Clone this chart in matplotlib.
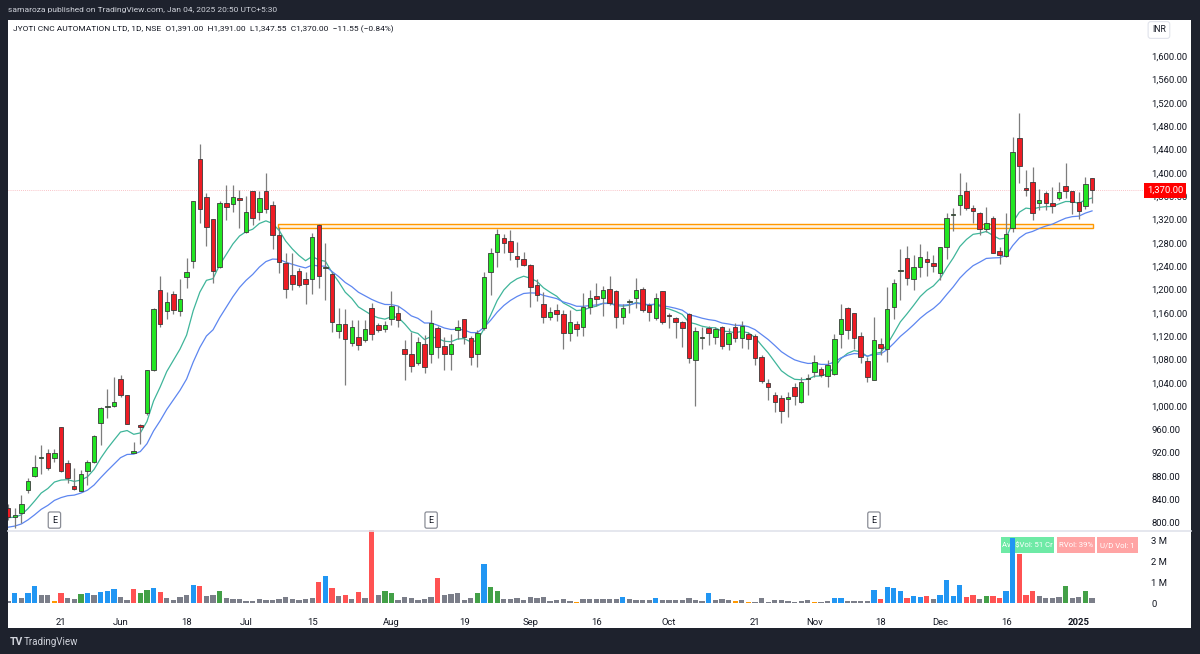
import numpy as np
import matplotlib
matplotlib.use("Agg")
import matplotlib.pyplot as plt
from matplotlib.patches import Rectangle
from matplotlib.ticker import FixedLocator, FuncFormatter

# --- daily candles (May 2024 - Jan 2025) ---
opens = [826, 811, 817, 857, 880, 911, 920, 911, 964, 903, 863, 855, 889, 904, 971, 999, 1000, 1047, 1019, 920,
         968, 989, 1062, 1199, 1163, 1192, 1163, 1221, 1249, 1424, 1358, 1321, 1239, 1348, 1346, 1357, 1298, 1369, 1333, 1369,
         1345, 1293, 1245, 1225, 1232, 1218, 1218, 1310, 1236, 1227, 1129, 1141, 1108, 1119, 1113, 1168, 1139, 1132, 1150, 1160,
         1098, 1090, 1074, 1107, 1090, 1134, 1103, 1090, 1131, 1150, 1117, 1090, 1134, 1230, 1264, 1288, 1283, 1257, 1252, 1242,
         1208, 1175, 1153, 1165, 1158, 1125, 1141, 1136, 1170, 1189, 1185, 1201, 1197, 1153, 1178, 1185, 1201, 1173, 1151, 1197,
         1156, 1151, 1144, 1158, 1079, 1117, 1134, 1119, 1136, 1107, 1136, 1117, 1124, 1120, 1084, 1040, 1019, 1014, 1013, 1033,
         1007, 1047, 1059, 1064, 1052, 1055, 1124, 1168, 1160, 1120, 1077, 1045, 1107, 1098, 1170, 1231, 1254, 1218, 1238, 1252,
         1245, 1228, 1273, 1328, 1345, 1369, 1340, 1331, 1304, 1322, 1266, 1257, 1305, 1460, 1374, 1384, 1348, 1365, 1348, 1357,
         1377, 1369, 1350, 1343, 1391]
highs = [832, 826, 848, 877, 916, 934, 927, 927, 965, 908, 894, 890, 908, 950, 998, 1029, 1050, 1054, 1019, 939,
         970, 1062, 1168, 1223, 1195, 1197, 1218, 1254, 1352, 1449, 1365, 1321, 1352, 1379, 1379, 1370, 1360, 1369, 1369, 1400,
         1352, 1307, 1262, 1262, 1237, 1230, 1297, 1312, 1280, 1230, 1168, 1167, 1148, 1148, 1148, 1177, 1143, 1146, 1197, 1172,
         1113, 1127, 1119, 1122, 1165, 1138, 1119, 1124, 1148, 1150, 1120, 1131, 1230, 1271, 1303, 1295, 1302, 1281, 1264, 1244,
         1218, 1196, 1170, 1175, 1165, 1165, 1146, 1194, 1199, 1211, 1206, 1223, 1199, 1175, 1184, 1220, 1204, 1177, 1194, 1197,
         1160, 1153, 1146, 1160, 1136, 1136, 1138, 1136, 1138, 1134, 1143, 1146, 1127, 1124, 1088, 1047, 1024, 1019, 1024, 1040,
         1050, 1055, 1088, 1067, 1079, 1124, 1175, 1170, 1160, 1127, 1084, 1153, 1117, 1204, 1218, 1269, 1274, 1259, 1278, 1266,
         1259, 1273, 1331, 1340, 1400, 1384, 1345, 1333, 1341, 1326, 1273, 1331, 1461, 1502, 1405, 1410, 1372, 1369, 1376, 1384,
         1417, 1369, 1367, 1393, 1391]
lows = [805, 792, 800, 851, 879, 884, 891, 904, 887, 869, 856, 854, 865, 902, 934, 980, 999, 1016, 969, 920,
        935, 985, 1060, 1136, 1150, 1158, 1155, 1203, 1237, 1314, 1274, 1211, 1237, 1319, 1333, 1305, 1297, 1310, 1319, 1331,
        1269, 1228, 1185, 1199, 1204, 1175, 1192, 1203, 1182, 1127, 1117, 1036, 1104, 1096, 1110, 1113, 1127, 1127, 1139, 1136,
        1045, 1059, 1071, 1057, 1074, 1083, 1062, 1062, 1115, 1107, 1071, 1067, 1131, 1190, 1238, 1262, 1250, 1238, 1240, 1170,
        1180, 1143, 1148, 1146, 1098, 1112, 1120, 1120, 1158, 1172, 1155, 1173, 1134, 1141, 1160, 1168, 1162, 1146, 1148, 1141,
        1134, 1117, 1101, 1074, 1000, 1098, 1105, 1107, 1098, 1096, 1110, 1100, 1098, 1071, 1040, 1011, 990, 971, 981, 1002,
        1005, 1019, 1050, 1050, 1033, 1054, 1100, 1115, 1098, 1074, 1041, 1045, 1088, 1076, 1150, 1182, 1208, 1199, 1221, 1223,
        1230, 1216, 1252, 1300, 1328, 1336, 1314, 1293, 1299, 1262, 1244, 1255, 1298, 1382, 1360, 1319, 1336, 1336, 1331, 1353,
        1357, 1329, 1321, 1338, 1347.55]
closes = [810, 813, 833, 872, 896, 913, 894, 920, 889, 877, 858, 884, 904, 949, 997, 1001, 1007, 1019, 970, 923,
          965, 1062, 1167, 1141, 1179, 1165, 1184, 1230, 1352, 1338, 1307, 1232, 1348, 1341, 1358, 1353, 1333, 1322, 1357, 1338,
          1293, 1247, 1201, 1209, 1208, 1209, 1290, 1223, 1238, 1144, 1141, 1115, 1136, 1105, 1132, 1124, 1131, 1139, 1172, 1148,
          1090, 1069, 1110, 1067, 1143, 1101, 1090, 1107, 1136, 1119, 1084, 1125, 1221, 1262, 1295, 1280, 1264, 1252, 1242, 1204,
          1190, 1153, 1161, 1158, 1125, 1144, 1132, 1170, 1185, 1184, 1199, 1177, 1153, 1168, 1180, 1199, 1165, 1161, 1185, 1144,
          1154, 1144, 1134, 1083, 1129, 1119, 1125, 1132, 1103, 1125, 1117, 1138, 1115, 1083, 1043, 1033, 1007, 992, 1015, 1018,
          1042, 1049, 1076, 1054, 1071, 1115, 1150, 1131, 1117, 1084, 1050, 1113, 1100, 1167, 1211, 1233, 1220, 1238, 1256, 1247,
          1240, 1273, 1322, 1330, 1362, 1340, 1334, 1304, 1314, 1262, 1259, 1295, 1436, 1411, 1371, 1331, 1353, 1348, 1343, 1367,
          1369, 1350, 1334, 1381, 1370]

# volume in millions and the colour class of each bar (g=gray, b=blue, r=red, u=green, o=orange)
volumes = [0.13, 0.48, 0.27, 0.51, 0.84, 0.37, 0.37, 0.10, 0.48, 0.24, 0.20, 0.44, 0.51, 0.40, 0.54, 0.60, 0.68, 0.32, 0.16, 0.68,
           0.48, 0.65, 0.71, 0.54, 0.24, 0.16, 0.32, 0.37, 0.87, 0.83, 0.33, 0.37, 0.57, 0.24, 0.20, 0.20, 0.11, 0.11, 0.19, 0.14,
           0.14, 0.20, 0.29, 0.19, 0.14, 0.19, 0.25, 1.00, 1.29, 0.71, 0.33, 0.41, 0.20, 0.54, 0.25, 3.52, 0.38, 0.59, 0.51, 0.17,
           0.29, 0.25, 0.16, 0.19, 0.32, 1.21, 0.40, 0.44, 0.48, 0.14, 0.25, 0.51, 1.87, 0.79, 0.60, 0.20, 0.20, 0.24, 0.16, 0.29,
           0.27, 0.32, 0.13, 0.14, 0.19, 0.11, 0.08, 0.19, 0.19, 0.20, 0.19, 0.19, 0.19, 0.32, 0.20, 0.14, 0.14, 0.14, 0.24, 0.16,
           0.16, 0.16, 0.16, 0.24, 0.16, 0.11, 0.51, 0.16, 0.19, 0.16, 0.10, 0.14, 0.06, 0.08, 0.27, 0.06, 0.16, 0.16, 0.10, 0.06,
           0.10, 0.14, 0.05, 0.08, 0.10, 0.27, 0.24, 0.11, 0.11, 0.11, 0.11, 0.63, 0.20, 0.76, 0.71, 0.57, 0.24, 0.33, 0.30, 0.33,
           0.19, 0.41, 1.11, 0.35, 0.87, 0.30, 0.40, 0.19, 0.35, 0.33, 0.27, 0.56, 3.10, 2.32, 0.40, 0.59, 0.35, 0.27, 0.27, 0.29,
           0.84, 0.25, 0.30, 0.57, 0.24]
vol_kind = list("gbgbbggorg" "gubgbbbggr" "uubrggggbr" "gguggggggg"
                "gggggggrbr" "grgrgrguug" "gggggrgggg" "gubuuggggg"
                "ggggggoggg" "gggbggggbg" "ggggggbggg" "ogoggggggg"
                "ggoggbbggg" "gbrbbbrbbr" "gbbbbrrgur" "rbbrrrgggg"
                "uggug")

# indicator seeds read at the left edge, and the support zone
ema_fast_len, ema_slow_len = 10, 20
ema_fast_seed, ema_slow_seed = 809, 791
zone_low, zone_high = 1306, 1312
zone_start, zone_end = 40.8, 164.2
last_price = 1370.0
earnings_idx = [7, 64, 131]

date_idx = [8, 17, 27, 36, 46, 58, 69, 79, 89, 100, 113, 122, 132, 141, 151, 162]
date_lbl = ["21", "Jun", "18", "Jul", "15", "Aug", "19", "Sep", "16", "Oct", "21", "Nov", "18", "Dec", "16", "2025"]
price_ticks = list(range(800, 1601, 40))
vol_ticks = [0, 1, 2, 3]
vol_tick_lbl = ["0", "1 M", "2 M", "3 M"]


def ema(values, n, seed):
    a = 2.0 / (n + 1)
    out = []
    e = seed
    for v in values:
        e = a * v + (1 - a) * e
        out.append(e)
    return out


plt.rcParams['font.family'] = ['Roboto', 'DejaVu Sans']

W, H = 1200, 654
BG = '#1e222d'
TXT = '#131722'
fig = plt.figure(figsize=(W / 100, H / 100), dpi=100, facecolor=BG)

# white panel
panel = Rectangle((7.5 / W, 1 - 628 / H), (1191 - 7.5) / W, (628 - 19.5) / H,
                  transform=fig.transFigure, fc='white', ec='none', zorder=-5)
fig.patches.append(panel)

L, R = 7.5, 1143
ax = fig.add_axes([L / W, 1 - 530 / H, (R - L) / W, (530 - 19.5) / H])
axv = fig.add_axes([L / W, 1 - 610 / H, (R - L) / W, 80 / H], sharex=ax)
for a in (ax, axv):
    a.set_facecolor('none')
    for s in a.spines.values():
        s.set_visible(False)

n = len(closes)
x = np.arange(n)
o, h, l, c = map(np.array, (opens, highs, lows, closes))
up = c >= o

# wicks and bodies
ax.vlines(x, l, h, color='#7d7d7d', lw=0.9, zorder=3)
body_bot = np.minimum(o, c)
body_h = np.maximum(np.abs(c - o), 1.2)
ax.bar(x, body_h, bottom=body_bot, width=0.68, color=np.where(up, '#22e622', '#ee1c24'),
       edgecolor='#3a3a3a', linewidth=0.6, zorder=4)

# moving averages
ax.plot(x, ema(closes, ema_fast_len, ema_fast_seed), color='#3fb59a', lw=0.9, zorder=2)
ax.plot(x, ema(closes, ema_slow_len, ema_slow_seed), color='#5d86f0', lw=0.9, zorder=2)

# support zone
ax.add_patch(Rectangle((zone_start, zone_low), zone_end - zone_start, zone_high - zone_low,
                       fc='#fff3e0', ec='#ff9800', lw=1.0, zorder=1.5))

# last price line
ax.axhline(last_price, color='#f7b0b6', lw=0.6, ls=(0, (1, 1.5)), zorder=1)

# earnings markers
for ei in earnings_idx:
    ax.text(ei, 805, "E", fontsize=6.5, color=TXT, ha='center', va='center', zorder=5,
            bbox=dict(boxstyle='round,pad=0.4,rounding_size=0.2', fc='white', ec='#8a8d96', lw=0.9))

ax.set_xlim(-0.1, (R - 7.3) / 6.614)
ax.set_ylim(800 - (530 - 523) * 800 / 467, 1600 + (56 - 19.5) * 800 / 467)
ax.yaxis.tick_right()
ax.yaxis.set_major_locator(FixedLocator(price_ticks))
ax.yaxis.set_major_formatter(FuncFormatter(lambda v, p: f"{v:,.2f}"))
ax.tick_params(axis='y', length=0, pad=6, labelsize=6.8, labelcolor=TXT)
ax.tick_params(axis='x', length=0, labelbottom=False)

# price label on axis
ax.text(1.0035, last_price, f"{last_price:,.2f}", transform=ax.get_yaxis_transform(), fontsize=6.8,
        color='white', ha='left', va='center', zorder=10, clip_on=False,
        bbox=dict(boxstyle='square,pad=0.3', fc='#ff0000', ec='none'))

# volume pane
vcol = {'g': '#7b7e89', 'b': '#2196f3', 'r': '#ff5252', 'u': '#43a047', 'o': '#ff9800'}
axv.bar(x, volumes, width=0.8, color=[vcol[k] for k in vol_kind], zorder=3)
axv.set_ylim(-(610 - 603.3) / 21.1, (603.3 - 530) / 21.1)
axv.yaxis.tick_right()
axv.yaxis.set_major_locator(FixedLocator(vol_ticks))
axv.set_yticklabels(vol_tick_lbl)
axv.tick_params(axis='y', length=0, pad=6, labelsize=6.8, labelcolor=TXT)
axv.xaxis.set_major_locator(FixedLocator(date_idx))
axv.set_xticklabels(date_lbl)
axv.tick_params(axis='x', length=0, pad=6, labelsize=6.8, labelcolor=TXT)
axv.get_xticklabels()[-1].set_fontweight('bold')


def vpx(px, py):
    return (px - L) / (R - L), (610 - py) / 80


for (x0, x1, txt, col) in [(1001, 1054, "Avg\\$Vol: 51 Cr", '#5ee89c'),
                           (1057, 1095, "RVol: 39%", '#ff9a9a'),
                           (1097, 1138, "U/D Vol: 1", '#ff9a9a')]:
    ax0, ay0 = vpx(x0, 553)
    ax1, ay1 = vpx(x1, 537)
    axv.add_patch(Rectangle((ax0, ay0), ax1 - ax0, ay1 - ay0, transform=axv.transAxes,
                            fc=col, ec='none', alpha=0.9, zorder=1, clip_on=False))
    axv.text((ax0 + ax1) / 2, (ay0 + ay1) / 2, txt, transform=axv.transAxes, fontsize=5.6,
             color='white', ha='center', va='center', zorder=1.5)

# separator between price and volume panes
fig.add_artist(plt.Line2D([L / W, 1191 / W], [1 - 530.5 / H] * 2, color='#e0e3eb', lw=1.2))

# header texts
fig.text(7.5 / W, 1 - 10 / H, "samaroza published on TradingView.com, Jan 04, 2025 20:50 UTC+5:30",
         fontsize=6.0, color='#d1d4dc', ha='left', va='center')
fig.text(13 / W, 1 - 29.5 / H,
         "JYOTI CNC AUTOMATION LTD, 1D, NSE  O1,391.00  H1,391.00  L1,347.55  C1,370.00  \u221211.55 (\u22120.84%)",
         fontsize=6.0, color=TXT, ha='left', va='center')
fig.text(1152 / W, 1 - 30 / H, "INR", fontsize=6.2, color=TXT, ha='left', va='center',
         bbox=dict(boxstyle='round,pad=0.45,rounding_size=0.3', fc='white', ec='#e0e3eb', lw=0.8))

# footer logo
fig.text(10 / W, 1 - 642 / H, "TV", fontsize=7.5, fontweight='bold', color='#d1d4dc', ha='left', va='center')
fig.text(24 / W, 1 - 642 / H, "TradingView", fontsize=7, color='#d1d4dc', ha='left', va='center')

fig.savefig("out.png", dpi=100, facecolor=BG)
